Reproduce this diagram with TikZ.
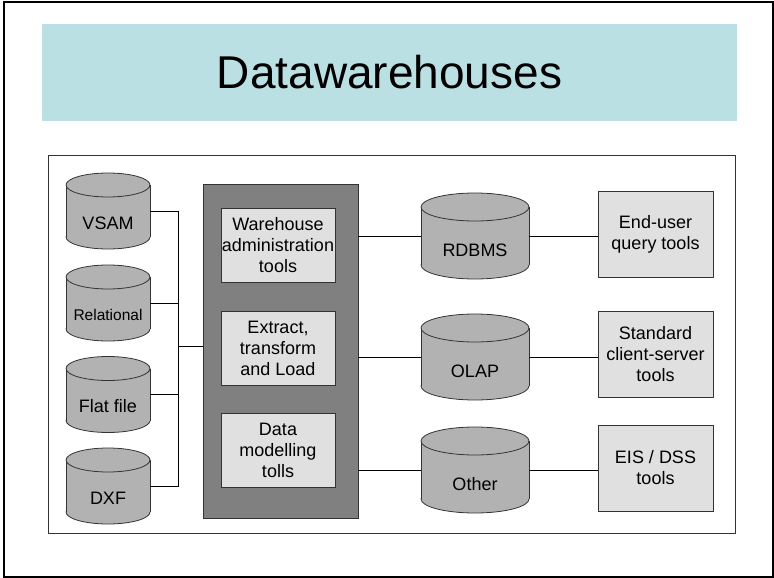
\documentclass[tikz,border=0pt]{standalone}
\usepackage{fontspec}
\setmainfont{Liberation Sans}
\definecolor{bandcol}{HTML}{BBE0E3}
\definecolor{drumcol}{HTML}{B2B2B2}
\definecolor{corecol}{HTML}{808080}
\definecolor{boxcol}{HTML}{E0E0E0}
\definecolor{edgecol}{HTML}{333333}

% A database drum: name, centre x, centre y, width, height, ellipse radius, font, label
\newcommand\drum[8]{%
  \pgfmathsetmacro\drumrx{#4/2}%
  \pgfmathsetmacro\drumtop{#3-#5/2+#6}%
  \pgfmathsetmacro\drumbot{#3+#5/2-#6}%
  \filldraw[drumline] (#2,\drumbot) ellipse [x radius=\drumrx, y radius=#6];
  \fill[drumcol] ({#2-\drumrx},\drumtop) rectangle ({#2+\drumrx},\drumbot);
  \draw[drumline] ({#2-\drumrx},\drumtop) -- ({#2-\drumrx},\drumbot)
                  ({#2+\drumrx},\drumtop) -- ({#2+\drumrx},\drumbot);
  \filldraw[drumline] (#2,\drumtop) ellipse [x radius=\drumrx, y radius=#6];
  \node[minimum width=#4pt, minimum height=#5pt, inner sep=0pt,
        label={[font=#7, yshift=-#6pt, inner sep=0pt]center:#8}] (#1) at (#2,#3) {};
}

\begin{document}
\begin{tikzpicture}[x=1pt, y=-1pt,
  drumline/.style={draw=edgecol, fill=drumcol, line width=0.8pt},
  toolbox/.style={draw=edgecol, fill=boxcol, line width=0.8pt, minimum width=115pt,
    minimum height=86pt, inner sep=0pt, align=center, font=\fontsize{18}{21}\selectfont},
  inbox/.style={toolbox, minimum width=114pt, minimum height=74pt},
  wire/.style={draw=black, line width=0.8pt},
  labelfont/.style={}]
\useasboundingbox (0,0) rectangle (774,578);

% outer frame and title band
\draw[line width=2pt] (4,2) rectangle (772.5,577);
\node[fill=bandcol, minimum width=695pt, minimum height=96pt, inner sep=0pt,
      font=\fontsize{46}{50}\selectfont] (title) at (389.5,72.5) {Datawarehouses};

% diagram panel
\node[draw=edgecol, line width=1pt, minimum width=687pt, minimum height=378pt,
      inner sep=0pt] (panel) at (391.5,344) {};

% sources
\drum{vsam}{108}{211}{84}{76}{12}{\fontsize{18}{21}\selectfont}{VSAM}
\drum{relational}{108}{303}{84}{76}{12}{\fontsize{15.5}{18}\selectfont}{Relational}
\drum{flatfile}{108}{394.5}{84}{76}{12}{\fontsize{18}{21}\selectfont}{Flat file}
\drum{dxf}{108}{486}{84}{76}{12}{\fontsize{18}{21}\selectfont}{DXF}

% warehouse tools
\node[draw=edgecol, fill=corecol, line width=0.8pt, minimum width=155pt,
      minimum height=334pt, inner sep=0pt] (core) at (280.5,351) {};
\node[inbox] (admin) at (278,245) {Warehouse\\administration\\tools};
\node[inbox] (etl) at (278,348) {Extract,\\transform\\and Load};
\node[inbox] (model) at (278,450.5) {Data\\modelling\\tolls};

% stores
\drum{rdbms}{475}{236}{108}{86}{14}{\fontsize{18}{21}\selectfont}{RDBMS}
\drum{olap}{475}{357}{108}{86}{14}{\fontsize{18}{21}\selectfont}{OLAP}
\drum{other}{475}{470}{108}{86}{14}{\fontsize{18}{21}\selectfont}{Other}

% front-end tools
\node[toolbox] (enduser) at (655.5,234) {End-user\\query tools};
\node[toolbox] (clientserver) at (655.5,354) {Standard\\client-server\\tools};
\node[toolbox] (eisdss) at (655.5,468) {EIS / DSS\\tools};

% connectors
\coordinate (bus) at (178,346);
\foreach \s in {vsam,relational,flatfile,dxf}
  \draw[wire] (\s.east) -| (bus);
\draw[wire] (bus) -- (bus -| core.west);
\foreach \d/\b in {rdbms/enduser, olap/clientserver, other/eisdss} {
  \draw[wire] (\d.west -| core.east) -- (\d.west);
  \draw[wire] (\d.east) -- (\d.east -| \b.west);
}
\end{tikzpicture}
\end{document}
